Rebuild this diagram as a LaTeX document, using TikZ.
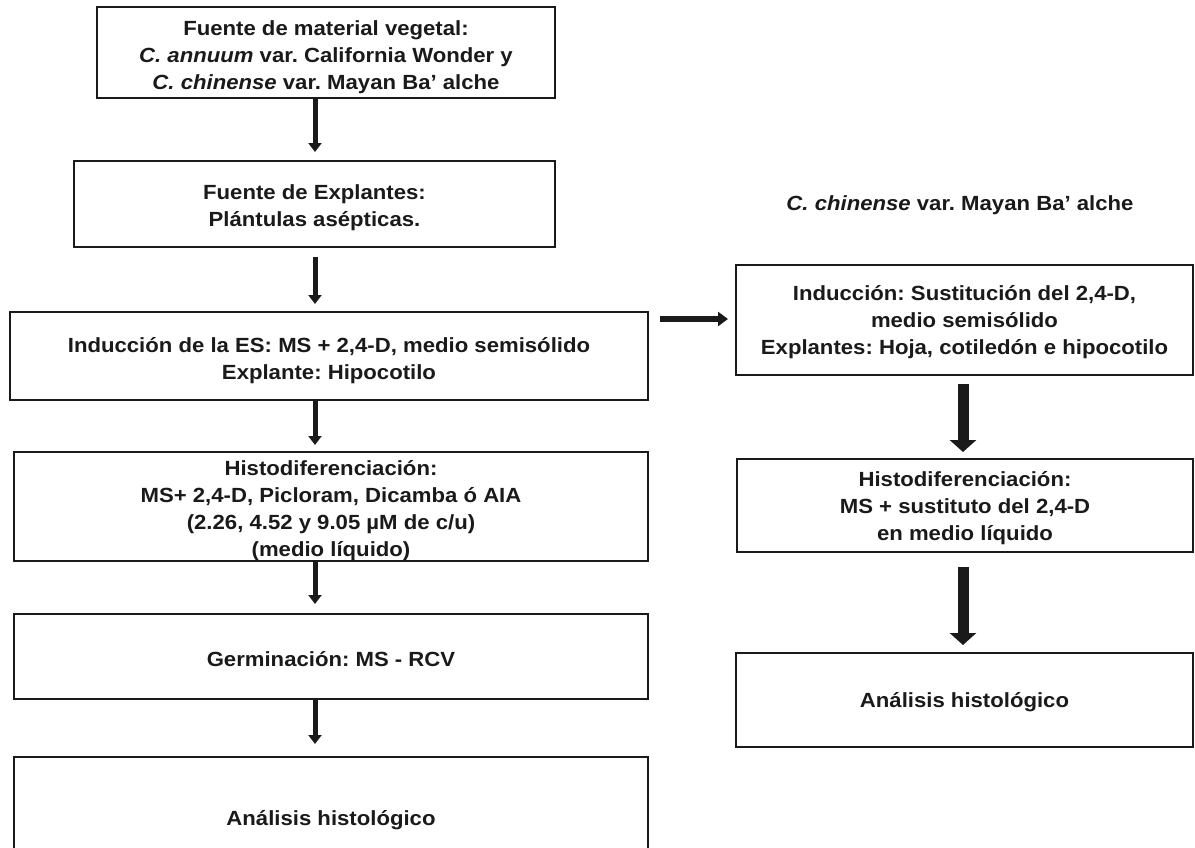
\documentclass[tikz,border=0pt]{standalone}
\usepackage{fontspec}
\setmainfont{Liberation Sans}
\usetikzlibrary{arrows.meta}
\definecolor{ink}{HTML}{1A1A1A}
\newcommand{\boxfont}{\bfseries\fontsize{20.5}{27}\selectfont\addfontfeature{FakeStretch=1.08}\frenchspacing}
\newcommand{\lowered}[2]{\raisebox{-#1}[\height][\depth]{\begin{tabular}{@{}c@{}}#2\end{tabular}}}
\tikzset{
  box/.style={draw=ink, line width=2.4pt, inner sep=0pt, outer sep=0pt,
    text=ink, font=\boxfont},
  titletext/.style={text=ink, inner sep=0pt, font=\boxfont},
  thinarrow/.style={draw=ink, line width=5pt, -{Triangle[width=13pt,length=9pt]}},
  thickarrow/.style={draw=ink, line width=11pt, -{Triangle[width=26pt,length=12pt]}},
  sidearrow/.style={draw=ink, line width=6pt, -{Triangle[width=14pt,length=10pt]}}
}
\begin{document}
\begin{tikzpicture}[x=1pt,y=-1pt]
\useasboundingbox (0,0) rectangle (1195,847);
\clip (0,0) rectangle (1195,847);
\fill[white] (0,0) rectangle (1195,847);

% left column
\node[box, minimum width=458pt, minimum height=91pt] (b1) at (326,52.5)
  {\lowered{5pt}{Fuente de material vegetal:\\ \textit{C. annuum} var. California Wonder y\\ \textit{C. chinense} var. Mayan Ba’ alche}};
\node[box, minimum width=481pt, minimum height=86pt] (b2) at (314.5,204)
  {\lowered{4pt}{Fuente de Explantes:\\ Plántulas asépticas.}};
\node[box, minimum width=638pt, minimum height=88pt] (b3) at (329,356)
  {\lowered{5pt}{Inducción de la ES: MS + 2,4-D, medio semisólido\\ Explante: Hipocotilo}};
\node[box, minimum width=634pt, minimum height=109pt] (b4) at (331,506.5)
  {\lowered{4pt}{Histodiferenciación:\\ MS+ 2,4-D, Picloram, Dicamba ó AIA\\ (2.26, 4.52 y 9.05 µM de c/u)\\ (medio líquido)}};
\node[box, minimum width=634pt, minimum height=85pt] (b5) at (331,656.5)
  {\lowered{5pt}{Germinación: MS - RCV}};
\node[box, minimum width=634pt, minimum height=122pt] (b6) at (331,818)
  {\lowered{2pt}{Análisis histológico}};

% right column
\node[titletext] (t) at (960,205) {\textit{C. chinense} var. Mayan Ba’ alche};
\node[box, minimum width=457pt, minimum height=110pt] (r1) at (964.5,320)
  {\lowered{2pt}{Inducción: Sustitución del 2,4-D,\\ medio semisólido\\ Explantes: Hoja, cotiledón e hipocotilo}};
\node[box, minimum width=456pt, minimum height=93pt] (r2) at (965,505.5)
  {\lowered{3pt}{Histodiferenciación:\\ MS + sustituto del 2,4-D\\ en medio líquido}};
\node[box, minimum width=457pt, minimum height=94pt] (r3) at (964.5,700)
  {\lowered{2pt}{Análisis histológico}};

% guide coordinates
\coordinate (ax) at (315,0);
\coordinate (rx) at (963,0);
\coordinate (hy) at (0,319);

% connectors
\draw[thinarrow, shorten >=9pt] (b1.south -| ax) -- (b2.north -| ax);
\draw[thinarrow, shorten <=10pt, shorten >=8pt] (b2.south -| ax) -- (b3.north -| ax);
\draw[thinarrow, shorten >=7pt] (b3.south -| ax) -- (b4.north -| ax);
\draw[thinarrow, shorten >=10pt] (b4.south -| ax) -- (b5.north -| ax);
\draw[thinarrow, shorten >=13pt] (b5.south -| ax) -- (b6.north -| ax);
\draw[sidearrow, shorten <=12pt, shorten >=8pt] (b3.east |- hy) -- (r1.west |- hy);
\draw[thickarrow, shorten <=9pt, shorten >=7pt] (r1.south -| rx) -- (r2.north -| rx);
\draw[thickarrow, shorten <=15pt, shorten >=8pt] (r2.south -| rx) -- (r3.north -| rx);
\end{tikzpicture}
\end{document}
